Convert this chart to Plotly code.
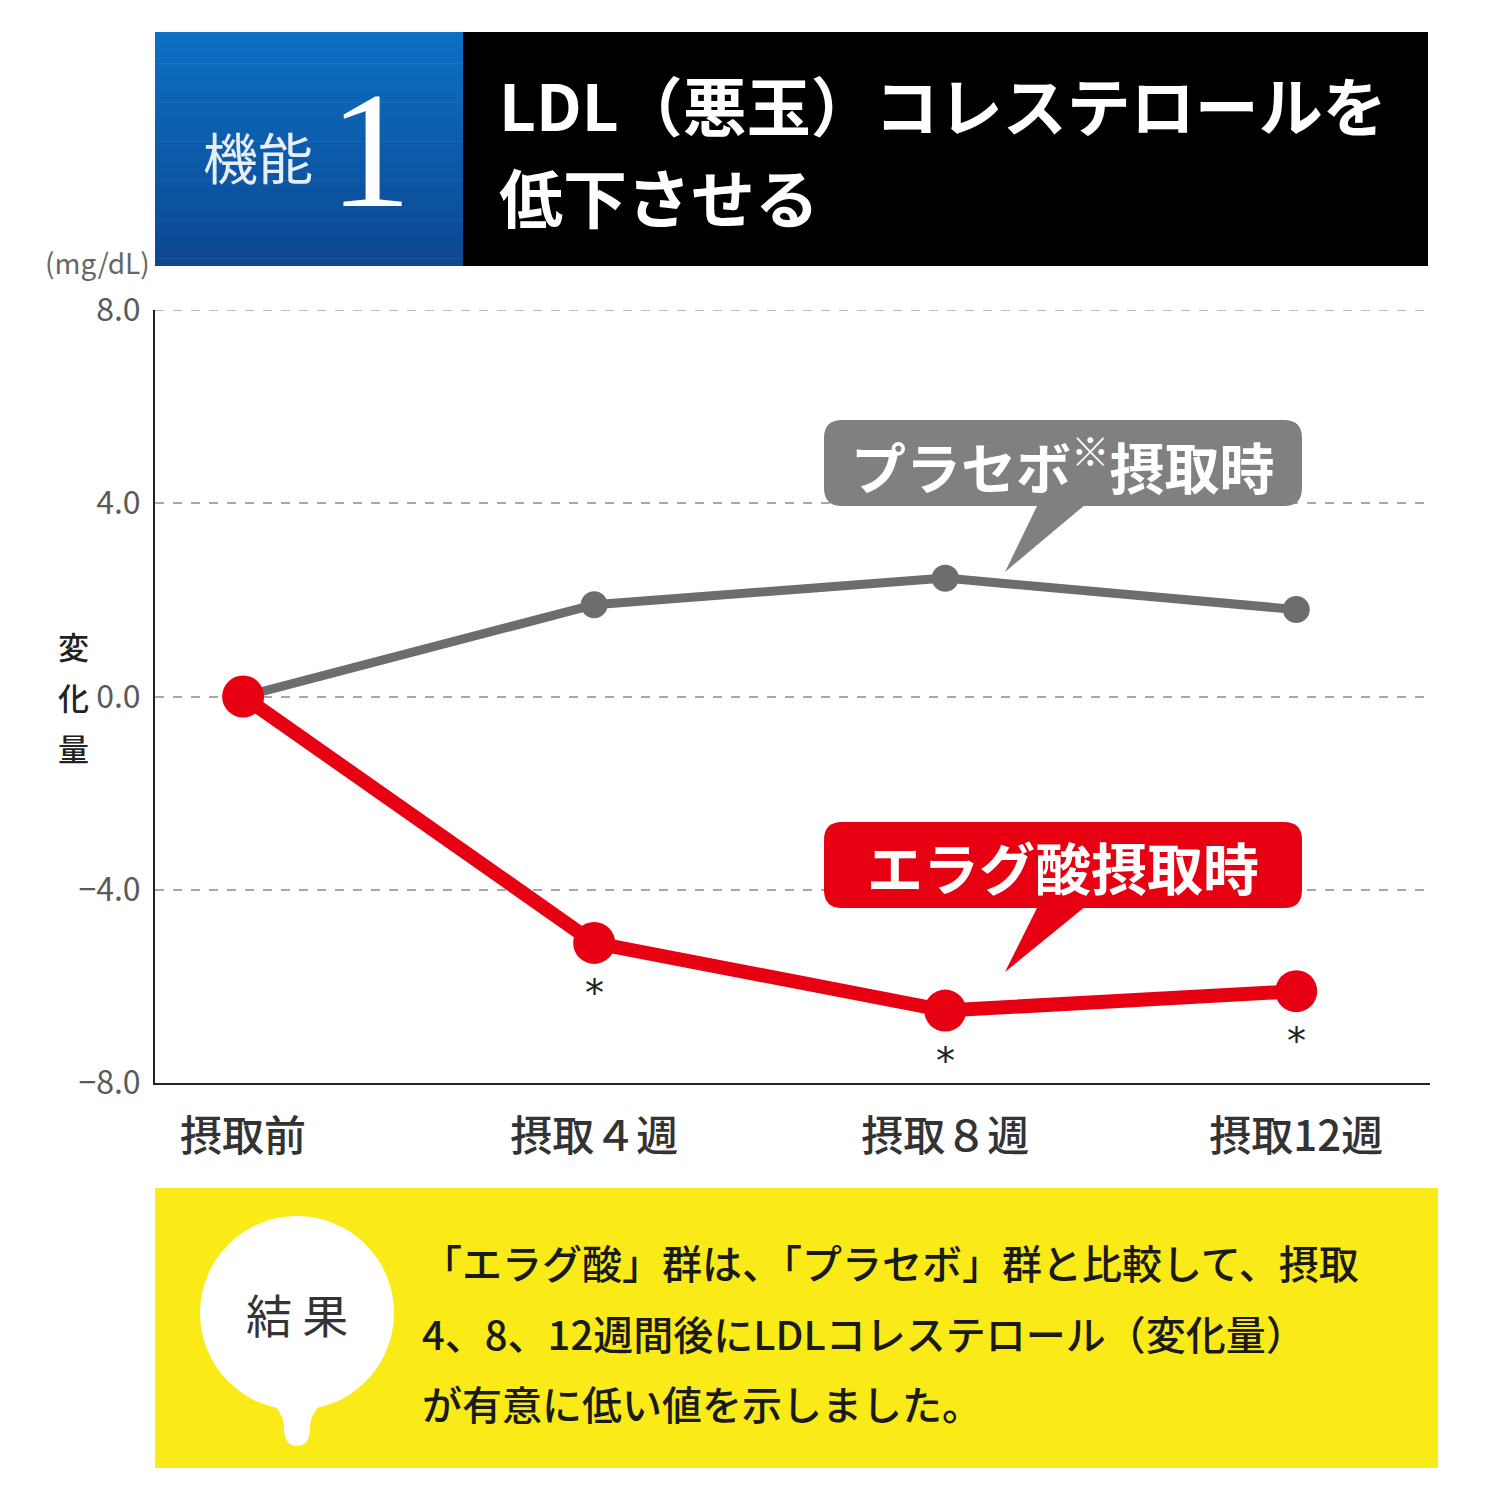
import plotly.graph_objects as go

OFF = 8          # page body margin
S = 1484         # figure size so that the page fits the 1500 window

# data
categories = ["摂取前", "摂取４週", "摂取８週", "摂取12週"]
weeks = [0, 1, 2, 3]
placebo = [0.0, 1.9, 2.45, 1.8]
ellagic = [0.0, -5.1, -6.5, -6.1]
significant = [False, True, True, True]
y_ticks = [8, 4, 0, -4, -8]
y_ticktext = ["8.0", "4.0", "0.0", "−4.0", "−8.0"]

FONT = "Noto Sans CJK JP"
NARROW = "Liberation Sans Narrow, Noto Sans CJK JP"
RED = "#e60012"
GRAY = "#6d6d6d"


def px(x):
    return (x - OFF) / S


def py(y):
    return 1 - (y - OFF) / S


def rrect(x0, y0, x1, y1, r):
    # rounded rectangle path in paper coords from a pixel box
    pts = [
        f"M {px(x0 + r)} {py(y0)}",
        f"L {px(x1 - r)} {py(y0)}",
        f"Q {px(x1)} {py(y0)} {px(x1)} {py(y0 + r)}",
        f"L {px(x1)} {py(y1 - r)}",
        f"Q {px(x1)} {py(y1)} {px(x1 - r)} {py(y1)}",
        f"L {px(x0 + r)} {py(y1)}",
        f"Q {px(x0)} {py(y1)} {px(x0)} {py(y1 - r)}",
        f"L {px(x0)} {py(y0 + r)}",
        f"Q {px(x0)} {py(y0)} {px(x0 + r)} {py(y0)} Z",
    ]
    return " ".join(pts)


def tri(a, b, c):
    return (f"M {px(a[0])} {py(a[1])} L {px(b[0])} {py(b[1])} "
            f"L {px(c[0])} {py(c[1])} Z")


fig = go.Figure()

fig.add_trace(go.Scatter(
    x=weeks, y=placebo, mode="lines+markers",
    line=dict(color=GRAY, width=9),
    marker=dict(color=GRAY, size=27),
    name="プラセボ", showlegend=False,
))
fig.add_trace(go.Scatter(
    x=weeks, y=ellagic, mode="lines+markers",
    line=dict(color=RED, width=14),
    marker=dict(color=RED, size=42),
    name="エラグ酸", showlegend=False,
))

shapes = []
# header: blue gradient block built from thin bands, then black block
top, bot = 32, 266
n = 60
for i in range(n):
    t = i / (n - 1)
    r = int(14 + (12 - 14) * t)
    g = int(112 + (72 - 112) * t)
    b = int(196 + (146 - 196) * t)
    y0 = top + (bot - top) * i / n
    y1 = top + (bot - top) * (i + 1) / n + 0.6
    shapes.append(dict(type="rect", xref="paper", yref="paper",
                       x0=px(155), x1=px(463), y0=py(min(y1, bot)), y1=py(y0),
                       fillcolor=f"rgb({r},{g},{b})", line_width=0, layer="below"))
shapes.append(dict(type="rect", xref="paper", yref="paper",
                   x0=px(463), x1=px(1428), y0=py(bot), y1=py(top),
                   fillcolor="#000000", line_width=0, layer="below"))

# dashed line at the top of the value range
shapes.append(dict(type="line", xref="x domain", yref="y",
                   x0=0, x1=1, y0=y_ticks[0], y1=y_ticks[0],
                   line=dict(color="#a8a8a8", width=1.5, dash="dash"), layer="below"))

# callout bubbles
shapes.append(dict(type="path", xref="paper", yref="paper",
                   path=rrect(824, 420, 1302, 506, 18),
                   fillcolor="#808080", line_width=0))
shapes.append(dict(type="path", xref="paper", yref="paper",
                   path=tri((1038, 504), (1086, 504), (1005, 572)),
                   fillcolor="#808080", line_width=0))
shapes.append(dict(type="path", xref="paper", yref="paper",
                   path=rrect(824, 822, 1302, 908, 18),
                   fillcolor=RED, line_width=0))
shapes.append(dict(type="path", xref="paper", yref="paper",
                   path=tri((1038, 906), (1086, 906), (1005, 972)),
                   fillcolor=RED, line_width=0))

# result panel
shapes.append(dict(type="rect", xref="paper", yref="paper",
                   x0=px(155), x1=px(1438), y0=py(1468), y1=py(1188),
                   fillcolor="#f9ea18", line_width=0, layer="below"))
shapes.append(dict(type="circle", xref="paper", yref="paper",
                   x0=px(200), x1=px(394), y0=py(1410), y1=py(1216),
                   fillcolor="#ffffff", line_width=0))
shapes.append(dict(type="path", xref="paper", yref="paper",
                   path=(f"M {px(262)} {py(1395)} Q {px(285)} {py(1410)} {px(284)} {py(1430)} "
                         f"Q {px(285)} {py(1446)} {px(297)} {py(1446)} "
                         f"Q {px(309)} {py(1446)} {px(310)} {py(1430)} "
                         f"Q {px(309)} {py(1410)} {px(332)} {py(1395)} Z"),
                   fillcolor="#ffffff", line_width=0))

annotations = []


def note(text, x, y, size, color, xanchor="center", family=FONT, weight="normal"):
    annotations.append(dict(text=text, x=px(x), y=py(y), xref="paper", yref="paper",
                            showarrow=False, xanchor=xanchor, yanchor="middle",
                            font=dict(family=family, size=size, color=color, weight=weight)))


note("機能", 258, 155, 55, "#e6edf5")
note("1", 370, 150, 165, "#ffffff", family="Liberation Serif, DejaVu Serif, serif")
note("LDL（悪玉）コレステロールを", 497, 103, 64, "#ffffff", xanchor="left", weight="bold")
note("低下させる", 497, 195, 64, "#ffffff", xanchor="left", weight="bold")
note("(mg/dL)", 97, 262, 28, "#666666", family=NARROW)
for ch, yy in zip("変化量", [645, 696, 748]):
    note(ch, 73, yy, 31, "#222222", weight=500)
note("プラセボ<sup>※</sup>摂取時", 1063, 463, 55, "#ffffff", weight="bold")
note("エラグ酸摂取時", 1063, 865, 56, "#ffffff", weight="bold")
note("結 果", 297, 1313, 46, "#333333")
body = ["「エラグ酸」群は、「プラセボ」群と比較して、摂取",
        "4、8、12週間後にLDLコレステロール（変化量）",
        "が有意に低い値を示しました。"]
for line, yy in zip(body, [1262, 1333, 1403]):
    note(line, 420, yy, 40, "#1a1a1a", xanchor="left", weight=500)

# significance marks under the red points
for xv, yv, sig in zip(weeks, ellagic, significant):
    if sig:
        annotations.append(dict(text="*", x=xv, y=yv, xref="x", yref="y",
                                showarrow=False, yshift=-50,
                                font=dict(family="DejaVu Sans", size=38, color="#222222")))

fig.update_layout(
    width=S, height=S,
    margin=dict(l=0, r=0, t=0, b=0, autoexpand=False),
    paper_bgcolor="#ffffff", plot_bgcolor="#ffffff",
    shapes=shapes, annotations=annotations,
    showlegend=False,
    xaxis=dict(
        domain=[px(155), px(1430)], range=[-0.251, 3.381],
        tickvals=weeks, ticktext=categories,
        tickfont=dict(family=FONT, size=42, color="#333333", weight=500),
        showgrid=False, zeroline=False, showline=True, linecolor="#222222", linewidth=2,
        ticks="", ticklabelstandoff=16, automargin=False,
    ),
    yaxis=dict(
        domain=[py(1083), py(310)], range=[-8, 8],
        tickvals=y_ticks, ticktext=y_ticktext,
        tickfont=dict(family=NARROW, size=32, color="#5a5a5a"),
        showgrid=True, gridcolor="#a8a8a8", griddash="dash", gridwidth=1.5,
        zeroline=False, showline=True, linecolor="#222222", linewidth=2,
        ticks="", ticklabelstandoff=6, automargin=False,
    ),
)

fig.write_html("out.html")
